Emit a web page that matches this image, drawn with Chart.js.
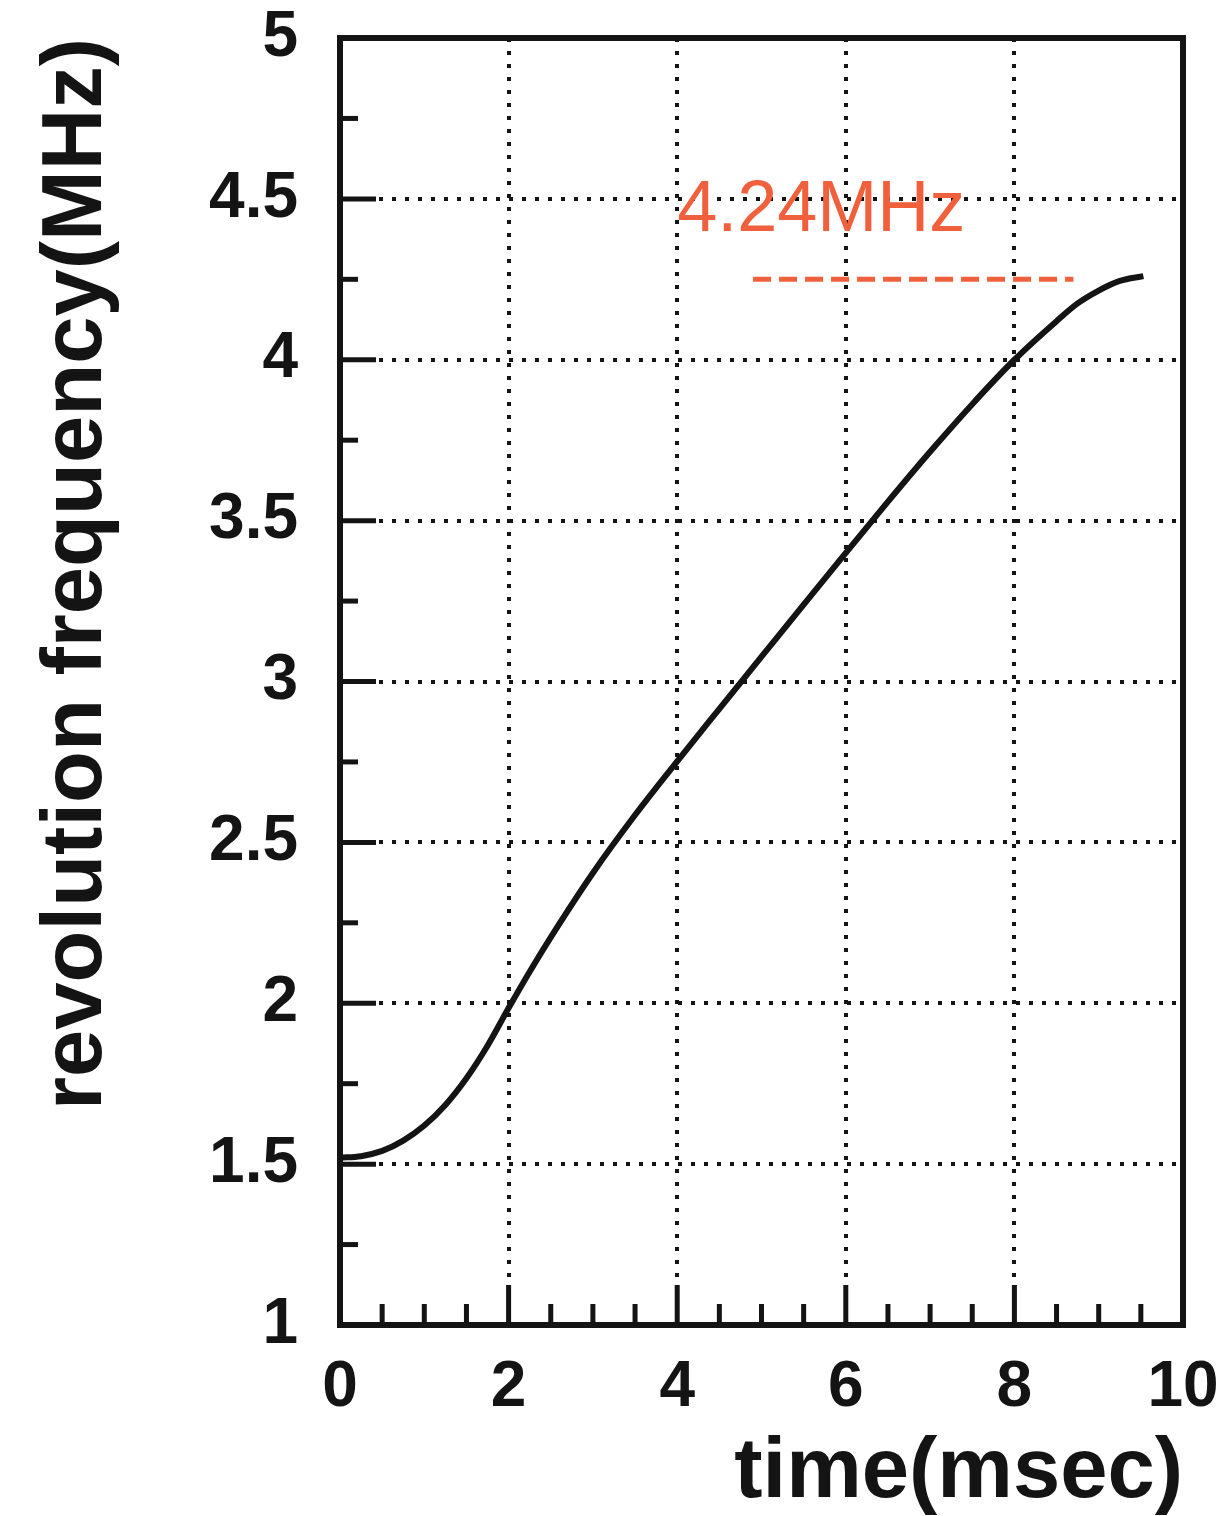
<!DOCTYPE html>
<html><head><meta charset="utf-8">
<script src="https://cdn.jsdelivr.net/npm/chart.js@4/dist/chart.umd.min.js"></script>
<style>html,body{margin:0;padding:0;background:#fff}#wrap{width:1225px;height:1516px}</style>
</head><body><div id="wrap"><canvas id="c" width="1225" height="1516"></canvas></div>
<script>
// ---- data ----
const timeMs  = [0, 0.25, 0.5, 0.75, 1.0, 1.25, 1.5, 1.75, 2.0, 2.25, 2.5, 3.0, 3.5, 4.0, 4.5, 5.0, 5.5, 6.0, 6.5, 7.0, 7.5, 8.0, 8.5, 8.75, 9.0, 9.25, 9.53];
const freqMHz = [1.52, 1.5245, 1.541, 1.573, 1.62, 1.684, 1.767, 1.868, 1.985, 2.098, 2.205, 2.405, 2.585, 2.752, 2.915, 3.077, 3.239, 3.40, 3.559, 3.714, 3.862, 4.0, 4.12, 4.175, 4.215, 4.245, 4.26];
const refTime = [4.9, 8.7];
const refFreq = [4.25, 4.25];
const refLabel = '4.24MHz';
const refLabelAt = {t: 4.0, f: 4.40};
const xTickLabels = ['0', '2', '4', '6', '8', '10'];
const yTickLabels = ['1', '1.5', '2', '2.5', '3', '3.5', '4', '4.5', '5'];
const xTitle = 'time(msec)';
const yTitle = 'revolution frequency(MHz)';

const FONT = "'Liberation Sans', Arial, Helvetica, sans-serif";
const INK = '#141414';
const RED = '#f0603c';

function lbl(v){ return String(Math.round(v*100)/100); }

const framePlugin = {
  id: 'frameTicks',
  afterDatasetsDraw(chart) {
    const {ctx, chartArea: a, scales} = chart;
    ctx.save();
    ctx.strokeStyle = INK;
    ctx.lineCap = 'butt';
    ctx.lineWidth = 5;
    scales.y.ticks.forEach(t => {
      const p = scales.y.getPixelForValue(t.value);
      const major = yTickLabels.includes(lbl(t.value));
      const len = major ? 36 : 18;
      ctx.beginPath(); ctx.moveTo(a.left, p); ctx.lineTo(a.left + len, p); ctx.stroke();
    });
    scales.x.ticks.forEach(t => {
      const p = scales.x.getPixelForValue(t.value);
      const major = xTickLabels.includes(lbl(t.value));
      const len = major ? 40 : 21;
      ctx.beginPath(); ctx.moveTo(p, a.bottom); ctx.lineTo(p, a.bottom - len); ctx.stroke();
    });
    ctx.lineWidth = 6;
    ctx.strokeRect(a.left, a.top, a.right - a.left, a.bottom - a.top);
    ctx.fillStyle = RED;
    ctx.font = '300 72px ' + FONT;
    ctx.textAlign = 'left';
    ctx.textBaseline = 'alphabetic';
    ctx.fillText(refLabel, scales.x.getPixelForValue(refLabelAt.t), scales.y.getPixelForValue(refLabelAt.f));
    ctx.restore();
  }
};

function gridColor(ctx, labels, min, max) {
  const v = ctx.tick ? ctx.tick.value : null;
  if (v === null || v === min || v === max) return 'rgba(0,0,0,0)';
  return labels.includes(lbl(v)) ? INK : 'rgba(0,0,0,0)';
}

new Chart(document.getElementById('c'), {
  type: 'line',
  data: {
    datasets: [
      {
        data: timeMs.map((t, i) => ({x: t, y: freqMHz[i]})),
        borderColor: INK, borderWidth: 6, pointRadius: 0,
        cubicInterpolationMode: 'monotone', fill: false
      },
      {
        data: refTime.map((t, i) => ({x: t, y: refFreq[i]})),
        borderColor: RED, borderWidth: 5, borderDash: [18, 8], pointRadius: 0, fill: false
      }
    ]
  },
  options: {
    responsive: false,
    animation: false,
    devicePixelRatio: 1,
    layout: {padding: {top: 38, right: 42, left: 0, bottom: 0}},
    plugins: {legend: {display: false}, tooltip: {enabled: false}},
    scales: {
      x: {
        type: 'linear', min: 0, max: 10,
        afterFit: s => { s.height = 191; s.paddingLeft = 0; s.paddingRight = 0; },
        ticks: {
          stepSize: 0.5, autoSkip: false, maxRotation: 0, padding: 25,
          color: INK, font: {family: FONT, weight: 'bold', size: 64},
          callback: v => xTickLabels.includes(lbl(v)) ? lbl(v) : ''
        },
        grid: {
          drawTicks: false, lineWidth: 4,
          color: c => gridColor(c, xTickLabels, 0, 10)
        },
        border: {display: false, dash: [4, 9]},
        title: {
          display: true, text: xTitle, align: 'end', color: INK,
          font: {family: FONT, weight: 'bold', size: 85, lineHeight: 1},
          padding: {top: 0, bottom: 0}
        }
      },
      y: {
        type: 'linear', min: 1, max: 5,
        afterFit: s => { s.width = 340; s.paddingTop = 0; s.paddingBottom = 0; },
        ticks: {
          stepSize: 0.25, autoSkip: false, padding: 42,
          color: INK, font: {family: FONT, weight: 'bold', size: 64},
          callback: v => yTickLabels.includes(lbl(v)) ? lbl(v) : ''
        },
        grid: {
          drawTicks: false, lineWidth: 4,
          color: c => gridColor(c, yTickLabels, 1, 5)
        },
        border: {display: false, dash: [4, 9]},
        title: {
          display: true, text: yTitle, align: 'end', color: INK,
          font: {family: FONT, weight: 'bold', size: 85, lineHeight: 1},
          padding: {top: 35, bottom: 0}
        }
      }
    }
  },
  plugins: [framePlugin]
});
</script></body></html>
